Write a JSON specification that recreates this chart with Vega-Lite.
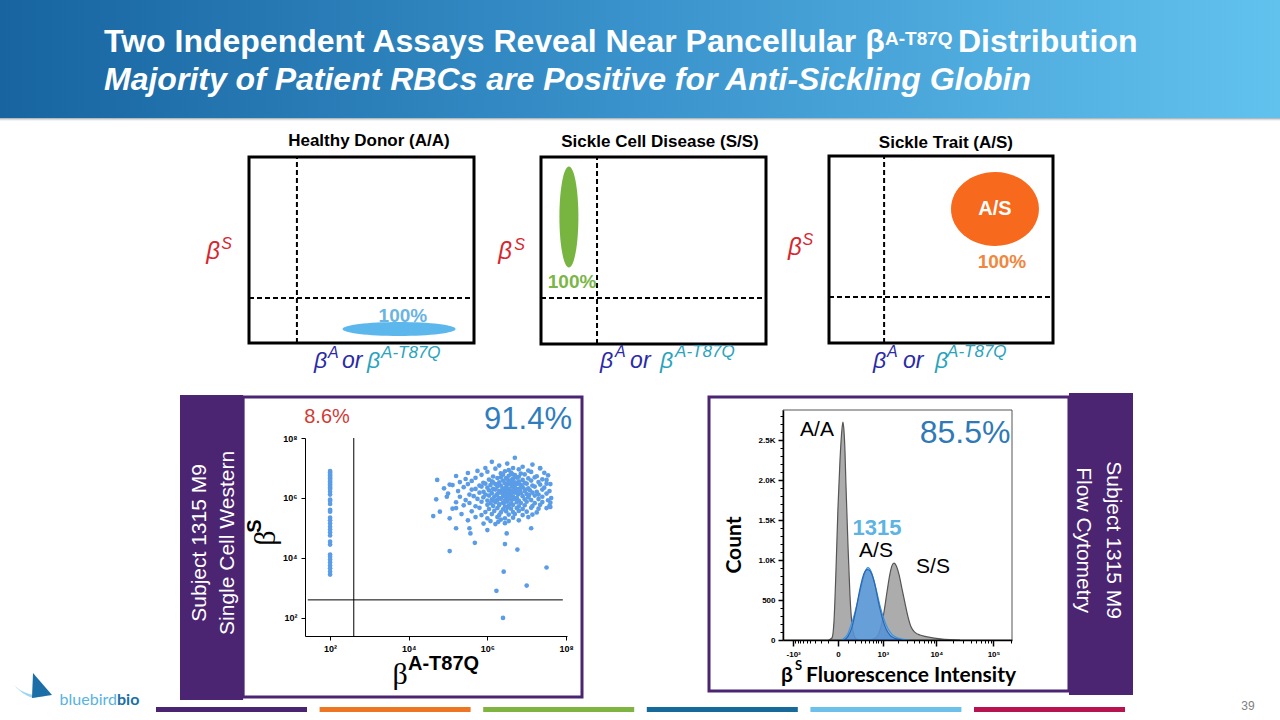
{
"$schema": "https://vega.github.io/schema/vega-lite/v6.json",
"width": 1280, "height": 720, "padding": 0, "autosize": {"type": "none"},
"background": "#ffffff",
"config": {"view": {"stroke": null}, "axis": {"grid": false}, "font": "Liberation Sans", "text": {"font": "Liberation Sans"}},
"data": {"values": [{}]},
"datasets": {
"scatter": [
{"A":100,"S":7.9e6},{"A":100,"S":7.1e6},{"A":100,"S":6.3e6},{"A":100,"S":5.6e6},{"A":100,"S":5.0e6},{"A":100,"S":4.5e6},{"A":100,"S":4.0e6},{"A":100,"S":3.5e6},{"A":100,"S":3.2e6},{"A":100,"S":2.8e6},{"A":100,"S":2.5e6},{"A":100,"S":2.2e6},{"A":100,"S":2.0e6},{"A":100,"S":1.6e6},{"A":100,"S":1.3e6},{"A":100,"S":8.9e5},{"A":100,"S":7.9e5},{"A":100,"S":6.3e5},{"A":100,"S":4.0e5},{"A":100,"S":3.5e5},{"A":100,"S":2.2e5},{"A":100,"S":1.8e5},{"A":100,"S":1.4e5},{"A":100,"S":1.1e5},{"A":100,"S":8.9e4},{"A":100,"S":7.1e4},{"A":100,"S":5.6e4},{"A":100,"S":3.5e4},{"A":100,"S":2.8e4},{"A":100,"S":1.3e4},{"A":100,"S":1.1e4},{"A":100,"S":8.9e3},{"A":100,"S":7.1e3},{"A":100,"S":5.6e3},{"A":100,"S":4.5e3},{"A":100,"S":3.5e3},{"A":100,"S":2.8e3},
{"A":5.0e6,"S":2.2e7},{"A":1.3e6,"S":1.6e7},{"A":3.2e6,"S":1.4e7},{"A":2.2e7,"S":1.0e7},{"A":8.9e5,"S":1.0e7},{"A":5.3e4,"S":4.0e6},{"A":1.1e5,"S":2.8e6},{"A":3.2e7,"S":4.0e6},{"A":4.0e7,"S":5.0e5},{"A":9.3e4,"S":1.1e6},{"A":1.6e5,"S":4.6e5},{"A":6.2e4,"S":3.5e5},{"A":1.1e5,"S":2.1e5},{"A":1.6e5,"S":9.8e4},{"A":3.5e5,"S":9.8e4},{"A":3.7e5,"S":6.6e4},{"A":4.8e5,"S":3.2e4},{"A":1.0e6,"S":8.5e4},{"A":1.9e6,"S":1.6e5},{"A":3.1e6,"S":6.6e4},{"A":2.8e6,"S":2.9e4},{"A":5.8e6,"S":1.9e4},{"A":1.3e7,"S":9.8e4},{"A":1.1e5,"S":1.7e4},{"A":2.6e6,"S":3.5e3},{"A":1.7e6,"S":8.0e2},{"A":1.0e7,"S":1.2e3},{"A":3.2e7,"S":4.8e3},{"A":2.5e6,"S":1.0e2},{"A":4.2e4,"S":2.5e5},
{"A":2.0e6,"S":1.2e7},{"A":4.5e6,"S":1.0e7},{"A":7.9e6,"S":1.1e7},{"A":1.4e7,"S":1.3e7},
{"A":5.6e5,"S":8.0e6},{"A":1.6e6,"S":9.5e6},{"A":3.5e6,"S":8.5e6},{"A":6.3e6,"S":9.0e6},{"A":1.1e7,"S":8.2e6},{"A":2.2e7,"S":9.6e6},
{"A":3.2e5,"S":6.8e6},{"A":1.0e6,"S":7.5e6},{"A":2.2e6,"S":6.6e6},{"A":2.8e6,"S":7.8e6},{"A":4.0e6,"S":7.0e6},{"A":7.1e6,"S":6.5e6},{"A":1.3e7,"S":7.4e6},{"A":2.8e7,"S":6.9e6},
{"A":1.6e5,"S":5.4e6},{"A":7.1e5,"S":5.9e6},{"A":1.4e6,"S":5.2e6},{"A":2.5e6,"S":6.0e6},{"A":3.5e6,"S":5.5e6},{"A":5.0e6,"S":5.8e6},{"A":6.3e6,"S":5.1e6},{"A":8.9e6,"S":6.1e6},{"A":1.8e7,"S":5.3e6},{"A":3.5e7,"S":5.7e6},
{"A":2.8e5,"S":4.3e6},{"A":5.0e5,"S":4.7e6},{"A":1.1e6,"S":4.1e6},{"A":1.8e6,"S":4.6e6},{"A":2.2e6,"S":4.9e6},{"A":3.2e6,"S":4.2e6},{"A":4.5e6,"S":4.4e6},{"A":5.6e6,"S":4.8e6},{"A":7.9e6,"S":4.0e6},{"A":1.1e7,"S":4.5e6},{"A":1.6e7,"S":4.9e6},{"A":2.5e7,"S":4.2e6},
{"A":2.0e5,"S":3.4e6},{"A":4.0e5,"S":3.7e6},{"A":7.9e5,"S":3.2e6},{"A":1.3e6,"S":3.6e6},{"A":2.0e6,"S":3.3e6},{"A":2.5e6,"S":3.8e6},{"A":2.8e6,"S":3.1e6},{"A":3.5e6,"S":3.5e6},{"A":4.0e6,"S":3.9e6},{"A":5.0e6,"S":3.3e6},{"A":6.3e6,"S":3.6e6},{"A":8.9e6,"S":3.2e6},{"A":1.3e7,"S":3.8e6},{"A":2.0e7,"S":3.4e6},{"A":3.2e7,"S":3.0e6},
{"A":1.3e5,"S":2.7e6},{"A":3.2e5,"S":2.9e6},{"A":6.3e5,"S":2.6e6},{"A":8.9e5,"S":3.0e6},{"A":1.2e6,"S":2.7e6},{"A":1.6e6,"S":2.9e6},{"A":2.2e6,"S":2.6e6},{"A":3.2e6,"S":2.8e6},{"A":3.8e6,"S":3.0e6},{"A":4.5e6,"S":2.6e6},{"A":5.6e6,"S":2.9e6},{"A":7.1e6,"S":2.7e6},{"A":1.0e7,"S":3.0e6},{"A":1.4e7,"S":2.6e6},{"A":2.2e7,"S":2.8e6},{"A":4.0e7,"S":2.9e6},
{"A":7.9e4,"S":2.1e6},{"A":2.5e5,"S":2.3e6},{"A":5.0e5,"S":2.0e6},{"A":7.1e5,"S":2.4e6},{"A":1.0e6,"S":2.2e6},{"A":1.4e6,"S":2.0e6},{"A":1.8e6,"S":2.4e6},{"A":2.5e6,"S":2.1e6},{"A":3.0e6,"S":2.3e6},{"A":3.5e6,"S":2.0e6},{"A":4.2e6,"S":2.4e6},{"A":5.0e6,"S":2.2e6},{"A":6.3e6,"S":2.0e6},{"A":7.9e6,"S":2.3e6},{"A":1.1e7,"S":2.1e6},{"A":1.6e7,"S":2.4e6},{"A":2.8e7,"S":2.2e6},
{"A":1.8e5,"S":1.7e6},{"A":4.0e5,"S":1.9e6},{"A":8.0e5,"S":1.6e6},{"A":1.1e6,"S":1.8e6},{"A":1.6e6,"S":1.9e6},{"A":2.0e6,"S":1.7e6},{"A":2.6e6,"S":1.6e6},{"A":3.2e6,"S":1.9e6},{"A":3.6e6,"S":1.7e6},{"A":4.5e6,"S":1.8e6},{"A":5.6e6,"S":1.6e6},{"A":6.8e6,"S":1.9e6},{"A":8.9e6,"S":1.7e6},{"A":1.2e7,"S":1.8e6},{"A":1.8e7,"S":1.6e6},{"A":2.5e7,"S":1.9e6},{"A":3.8e7,"S":1.7e6},
{"A":1.0e5,"S":1.4e6},{"A":3.5e5,"S":1.3e6},{"A":6.3e5,"S":1.5e6},{"A":9.0e5,"S":1.3e6},{"A":1.3e6,"S":1.45e6},{"A":1.8e6,"S":1.35e6},{"A":2.2e6,"S":1.5e6},{"A":2.8e6,"S":1.3e6},{"A":3.4e6,"S":1.45e6},{"A":4.0e6,"S":1.35e6},{"A":5.0e6,"S":1.5e6},{"A":6.0e6,"S":1.3e6},{"A":7.1e6,"S":1.45e6},{"A":1.0e7,"S":1.35e6},{"A":1.4e7,"S":1.5e6},{"A":2.0e7,"S":1.3e6},{"A":3.2e7,"S":1.4e6},
{"A":2.0e5,"S":1.1e6},{"A":4.5e5,"S":1.15e6},{"A":7.9e5,"S":1.05e6},{"A":1.1e6,"S":1.2e6},{"A":1.5e6,"S":1.1e6},{"A":2.0e6,"S":1.0e6},{"A":2.5e6,"S":1.15e6},{"A":3.0e6,"S":1.05e6},{"A":3.8e6,"S":1.2e6},{"A":4.5e6,"S":1.1e6},{"A":5.6e6,"S":1.0e6},{"A":7.9e6,"S":1.15e6},{"A":1.1e7,"S":1.05e6},{"A":1.6e7,"S":1.2e6},{"A":2.5e7,"S":1.1e6},{"A":4.2e7,"S":1.0e6},
{"A":5.0e4,"S":9.0e5},{"A":2.8e5,"S":8.5e5},{"A":5.6e5,"S":9.3e5},{"A":1.0e6,"S":8.2e5},{"A":1.3e6,"S":9.0e5},{"A":1.8e6,"S":8.6e5},{"A":2.2e6,"S":9.4e5},{"A":2.8e6,"S":8.3e5},{"A":3.5e6,"S":9.1e5},{"A":4.2e6,"S":8.7e5},{"A":5.0e6,"S":9.4e5},{"A":6.3e6,"S":8.2e5},{"A":8.9e6,"S":9.0e5},{"A":1.3e7,"S":8.5e5},{"A":2.0e7,"S":9.2e5},{"A":3.5e7,"S":8.4e5},
{"A":1.6e5,"S":7.2e5},{"A":3.5e5,"S":6.8e5},{"A":7.1e5,"S":7.5e5},{"A":1.2e6,"S":6.7e5},{"A":1.6e6,"S":7.3e5},{"A":2.5e6,"S":6.9e5},{"A":3.2e6,"S":7.6e5},{"A":4.0e6,"S":6.6e5},{"A":5.6e6,"S":7.2e5},{"A":7.1e6,"S":6.8e5},{"A":1.0e7,"S":7.5e5},{"A":1.6e7,"S":6.7e5},{"A":2.5e7,"S":7.3e5},{"A":4.0e7,"S":7.0e5},
{"A":2.5e5,"S":5.7e5},{"A":5.0e5,"S":5.3e5},{"A":1.0e6,"S":5.9e5},{"A":1.4e6,"S":5.4e5},{"A":2.0e6,"S":5.8e5},{"A":2.8e6,"S":5.2e5},{"A":3.5e6,"S":5.6e5},{"A":4.5e6,"S":5.9e5},{"A":6.3e6,"S":5.3e5},{"A":8.9e6,"S":5.7e5},{"A":1.4e7,"S":5.4e5},{"A":2.2e7,"S":5.9e5},{"A":3.8e7,"S":5.5e5},
{"A":1.3e5,"S":4.4e5},{"A":6.3e5,"S":4.7e5},{"A":1.1e6,"S":4.3e5},{"A":1.8e6,"S":4.6e5},{"A":2.5e6,"S":4.2e5},{"A":3.2e6,"S":4.8e5},{"A":4.0e6,"S":4.4e5},{"A":5.6e6,"S":4.6e5},{"A":7.9e6,"S":4.3e5},{"A":1.3e7,"S":4.7e5},{"A":2.0e7,"S":4.4e5},{"A":3.2e7,"S":4.6e5},
{"A":4.0e5,"S":3.6e5},{"A":8.9e5,"S":3.4e5},{"A":1.5e6,"S":3.7e5},{"A":2.2e6,"S":3.3e5},{"A":3.0e6,"S":3.6e5},{"A":4.5e6,"S":3.4e5},{"A":6.3e6,"S":3.7e5},{"A":1.0e7,"S":3.5e5},{"A":1.8e7,"S":3.3e5},
{"A":2.2e5,"S":2.9e5},{"A":7.1e5,"S":2.7e5},{"A":1.3e6,"S":2.9e5},{"A":2.0e6,"S":2.7e5},{"A":3.5e6,"S":2.8e5},{"A":5.0e6,"S":2.9e5},{"A":7.9e6,"S":2.7e5},{"A":1.4e7,"S":2.8e5},
{"A":5.0e5,"S":2.3e5},{"A":1.0e6,"S":2.1e5},{"A":1.8e6,"S":2.3e5},{"A":2.8e6,"S":2.1e5},{"A":4.5e6,"S":2.2e5},{"A":1.1e7,"S":2.3e5},
{"A":3.2e5,"S":1.8e5},{"A":1.2e6,"S":1.7e5},{"A":2.2e6,"S":1.9e5},{"A":3.5e6,"S":1.7e5},{"A":6.3e6,"S":1.8e5},
{"A":8.0e5,"S":1.4e5},{"A":1.6e6,"S":1.35e5},{"A":2.8e6,"S":1.45e5},
{"A":1.7e6,"S":1.25e6},{"A":2.4e6,"S":1.9e6},{"A":3.3e6,"S":1.2e6},{"A":4.2e6,"S":1.6e6},{"A":1.9e6,"S":2.8e6},{"A":2.7e6,"S":7.0e5},{"A":3.6e6,"S":1.0e6},{"A":4.6e6,"S":3.1e6},{"A":1.5e6,"S":7.8e5},{"A":2.0e6,"S":6.2e5},{"A":3.0e6,"S":1.7e6},{"A":3.9e6,"S":3.4e6},{"A":5.8e6,"S":1.9e6},{"A":7.4e6,"S":2.6e6},{"A":9.5e6,"S":1.9e6},{"A":1.4e6,"S":3.3e6},{"A":3.0e6,"S":4.6e6},{"A":4.3e6,"S":6.2e6},{"A":6.5e6,"S":3.0e6},{"A":1.15e7,"S":1.25e6}
],
"hist": [
{"curve":"A/A","x":-90,"count":0},{"curve":"A/A","x":-54,"count":25},{"curve":"A/A","x":-35,"count":220},{"curve":"A/A","x":-17,"count":850},{"curve":"A/A","x":0,"count":1650},{"curve":"A/A","x":17,"count":2250},{"curve":"A/A","x":35,"count":2640},{"curve":"A/A","x":44,"count":2725},{"curve":"A/A","x":54,"count":2620},{"curve":"A/A","x":65,"count":2350},{"curve":"A/A","x":75,"count":1950},{"curve":"A/A","x":98,"count":1200},{"curve":"A/A","x":123,"count":560},{"curve":"A/A","x":150,"count":200},{"curve":"A/A","x":179,"count":60},{"curve":"A/A","x":211,"count":15},{"curve":"A/A","x":260,"count":0},
{"curve":"S/S","x":519,"count":0},{"curve":"S/S","x":714,"count":30},{"curve":"S/S","x":873,"count":120},{"curve":"S/S","x":1059,"count":350},{"curve":"S/S","x":1220,"count":600},{"curve":"S/S","x":1401,"count":830},{"curve":"S/S","x":1534,"count":930},{"curve":"S/S","x":1678,"count":962},{"curve":"S/S","x":1835,"count":935},{"curve":"S/S","x":2094,"count":820},{"curve":"S/S","x":2387,"count":640},{"curve":"S/S","x":2717,"count":460},{"curve":"S/S","x":3089,"count":290},{"curve":"S/S","x":3509,"count":165},{"curve":"S/S","x":4151,"count":95},{"curve":"S/S","x":5116,"count":62},{"curve":"S/S","x":6292,"count":45},{"curve":"S/S","x":7730,"count":32},{"curve":"S/S","x":11625,"count":15},{"curve":"S/S","x":17430,"count":5},{"curve":"S/S","x":26130,"count":0},
{"curve":"1315","x":30,"count":0},{"curve":"1315","x":60,"count":25},{"curve":"1315","x":98,"count":80},{"curve":"1315","x":123,"count":150},{"curve":"1315","x":179,"count":300},{"curve":"1315","x":245,"count":500},{"curve":"1315","x":322,"count":710},{"curve":"1315","x":389,"count":850},{"curve":"1315","x":464,"count":905},{"curve":"1315","x":549,"count":860},{"curve":"1315","x":644,"count":740},{"curve":"1315","x":752,"count":590},{"curve":"1315","x":873,"count":430},{"curve":"1315","x":1059,"count":260},{"curve":"1315","x":1278,"count":140},{"curve":"1315","x":1534,"count":70},{"curve":"1315","x":1835,"count":35},{"curve":"1315","x":2387,"count":12},{"curve":"1315","x":3363,"count":0},
{"curve":"A/S","x":60,"count":0},{"curve":"A/S","x":98,"count":45},{"curve":"A/S","x":150,"count":160},{"curve":"A/S","x":211,"count":380},{"curve":"A/S","x":282,"count":640},{"curve":"A/S","x":366,"count":830},{"curve":"A/S","x":438,"count":880},{"curve":"A/S","x":491,"count":875},{"curve":"A/S","x":579,"count":820},{"curve":"A/S","x":679,"count":690},{"curve":"A/S","x":791,"count":500},{"curve":"A/S","x":962,"count":290},{"curve":"A/S","x":1164,"count":140},{"curve":"A/S","x":1401,"count":60},{"curve":"A/S","x":1755,"count":20},{"curve":"A/S","x":2388,"count":0}
]
},
"resolve": {"scale": {"x": "independent", "y": "independent", "color": "independent"}, "axis": {"x": "independent", "y": "independent"}},
"layer": [
{"layer": [
 {"mark": {"type": "rect", "color": {"gradient": "linear", "x1": 0, "y1": 0, "x2": 1, "y2": 0, "stops": [{"offset": 0, "color": "#1764a0"}, {"offset": 0.5, "color": "#3a93cc"}, {"offset": 1, "color": "#62c2ee"}]}},
  "encoding": {"x": {"datum": 0, "scale": {"domain": [0, 1], "range": [0, 1280], "nice": false}, "axis": null}, "x2": {"datum": 1},
               "y": {"datum": 0.8361, "scale": {"domain": [0, 1], "range": [720, 0], "nice": false}, "axis": null}, "y2": {"datum": 1}}},
 {"mark": {"type": "rect", "color": {"gradient": "radial", "x1": 0.55, "y1": -0.6, "r1": 0, "x2": 0.55, "y2": -0.6, "r2": 1, "stops": [{"offset": 0.5, "color": "rgba(150,222,250,0.9)"}, {"offset": 0.72, "color": "rgba(150,222,250,0.35)"}, {"offset": 0.9, "color": "rgba(150,222,250,0)"}]}},
  "encoding": {"x": {"datum": 0, "axis": null}, "x2": {"datum": 1}, "y": {"datum": 0.8361, "axis": null}, "y2": {"datum": 1}}},
 {"mark": {"type": "rect", "color": {"gradient": "linear", "x1": 0, "y1": 0, "x2": 0, "y2": 1, "stops": [{"offset": 0, "color": "#9aa6b0"}, {"offset": 1, "color": "rgba(255,255,255,0)"}]}},
  "encoding": {"x": {"datum": 0, "axis": null}, "x2": {"datum": 1}, "y": {"datum": 0.8306, "axis": null}, "y2": {"datum": 0.8361}}},
 {"mark": {"type": "text", "text": "Two Independent Assays Reveal Near Pancellular β", "align": "left", "baseline": "alphabetic", "fontSize": 32, "fontWeight": "bold", "color": "#ffffff"},
  "encoding": {"x": {"datum": 0.08125, "axis": null}, "y": {"datum": 0.9278, "axis": null}}},
 {"mark": {"type": "text", "text": "A-T87Q", "align": "left", "baseline": "alphabetic", "fontSize": 19, "fontWeight": "bold", "color": "#ffffff"},
  "encoding": {"x": {"datum": 0.6914, "axis": null}, "y": {"datum": 0.9375, "axis": null}}},
 {"mark": {"type": "text", "text": "Distribution", "align": "left", "baseline": "alphabetic", "fontSize": 32, "fontWeight": "bold", "color": "#ffffff"},
  "encoding": {"x": {"datum": 0.7484, "axis": null}, "y": {"datum": 0.9278, "axis": null}}},
 {"mark": {"type": "text", "text": "Majority of Patient RBCs are Positive for Anti-Sickling Globin", "align": "left", "baseline": "alphabetic", "fontSize": 32, "fontWeight": "bold", "fontStyle": "italic", "color": "#ffffff"},
  "encoding": {"x": {"datum": 0.08125, "axis": null}, "y": {"datum": 0.875, "axis": null}}},
 {"mark": {"type": "point", "shape": "M-1,-0.25Q-0.4,0.45,0.75,0.38L0.05,0.5Q-0.5,0.35,-1,-0.25Z", "size": 1600, "filled": true, "color": "#9fd6f0", "opacity": 1, "strokeWidth": 0},
  "encoding": {"x": {"datum": 0.025, "axis": null}, "y": {"datum": 0.0444, "axis": null}}},
 {"mark": {"type": "point", "shape": "M0.05,-0.75L1,0.35L0,0.5Z", "size": 1600, "filled": true, "color": "#1b6ea6", "opacity": 1, "strokeWidth": 0},
  "encoding": {"x": {"datum": 0.025, "axis": null}, "y": {"datum": 0.0444, "axis": null}}},
 {"mark": {"type": "text", "text": "bluebird", "align": "right", "baseline": "alphabetic", "font": "Lato", "fontSize": 16, "color": "#55b4e0"},
  "encoding": {"x": {"datum": 0.0914, "axis": null}, "y": {"datum": 0.0208, "axis": null}}},
 {"mark": {"type": "text", "text": "bio", "align": "left", "baseline": "alphabetic", "font": "Lato", "fontSize": 16, "fontWeight": "bold", "color": "#1b6ea6"},
  "encoding": {"x": {"datum": 0.0914, "axis": null}, "y": {"datum": 0.0208, "axis": null}}},
 {"mark": {"type": "text", "text": "39", "align": "center", "baseline": "middle", "fontSize": 12, "color": "#808080"},
  "encoding": {"x": {"datum": 0.975, "axis": null}, "y": {"datum": 0.0194, "axis": null}}}
]},
{"layer": [
 {"mark": {"type": "rect", "fill": "transparent", "stroke": "#000000", "strokeWidth": 3},
  "encoding": {"x": {"datum": 0, "scale": {"domain": [0, 1], "range": [249, 474], "nice": false}, "axis": null}, "x2": {"datum": 1},
               "y": {"datum": 0, "scale": {"domain": [0, 1], "range": [343, 157], "nice": false}, "axis": null}, "y2": {"datum": 1}}},
 {"mark": {"type": "rule", "color": "#000000", "strokeWidth": 2, "strokeDash": [5, 3]}, "encoding": {"x": {"datum": 0.213, "axis": null}, "y": {"datum": 0, "axis": null}, "y2": {"datum": 1}}},
 {"mark": {"type": "rule", "color": "#000000", "strokeWidth": 2, "strokeDash": [5, 3]}, "encoding": {"x": {"datum": 0, "axis": null}, "x2": {"datum": 1}, "y": {"datum": 0.242, "axis": null}}},
 {"mark": {"type": "point", "shape": "M-1,0C-1,-0.0685,-0.5523,-0.124,0,-0.124C0.5523,-0.124,1,-0.0685,1,0C1,0.0685,0.5523,0.124,0,0.124C-0.5523,0.124,-1,0.0685,-1,0Z", "size": 12769, "filled": true, "color": "#5cb8ec", "opacity": 1, "strokeWidth": 0},
  "encoding": {"x": {"datum": 0.667, "axis": null}, "y": {"datum": 0.075, "axis": null}}},
 {"mark": {"type": "text", "text": "100%", "align": "center", "baseline": "middle", "fontSize": 19, "fontWeight": "bold", "color": "#6ab4e2"}, "encoding": {"x": {"datum": 0.684, "axis": null}, "y": {"datum": 0.145, "axis": null}}},
 {"mark": {"type": "text", "text": "Healthy Donor (A/A)", "align": "center", "baseline": "middle", "fontSize": 17, "fontWeight": "bold", "color": "#000000"}, "encoding": {"x": {"datum": 0.533, "axis": null}, "y": {"datum": 1.086, "axis": null}}},
 {"mark": {"type": "text", "text": "β", "align": "center", "baseline": "middle", "fontSize": 24, "fontStyle": "italic", "color": "#d7262e"}, "encoding": {"x": {"datum": -0.16, "axis": null}, "y": {"datum": 0.489, "axis": null}}},
 {"mark": {"type": "text", "text": "S", "align": "center", "baseline": "middle", "fontSize": 16, "fontStyle": "italic", "color": "#d7262e"}, "encoding": {"x": {"datum": -0.1, "axis": null}, "y": {"datum": 0.532, "axis": null}}},
 {"mark": {"type": "text", "text": "β", "align": "left", "baseline": "alphabetic", "fontSize": 23, "fontStyle": "italic", "color": "#2a2aa8"}, "encoding": {"x": {"datum": 0.289, "axis": null}, "y": {"datum": -0.134, "axis": null}}},
 {"mark": {"type": "text", "text": "A", "align": "left", "baseline": "alphabetic", "fontSize": 16, "fontStyle": "italic", "color": "#2a2aa8"}, "encoding": {"x": {"datum": 0.351, "axis": null}, "y": {"datum": -0.081, "axis": null}}},
 {"mark": {"type": "text", "text": "or", "align": "left", "baseline": "alphabetic", "fontSize": 23, "fontStyle": "italic", "color": "#2a2aa8"}, "encoding": {"x": {"datum": 0.413, "axis": null}, "y": {"datum": -0.134, "axis": null}}},
 {"mark": {"type": "text", "text": "β", "align": "left", "baseline": "alphabetic", "fontSize": 23, "fontStyle": "italic", "color": "#2aa3bd"}, "encoding": {"x": {"datum": 0.524, "axis": null}, "y": {"datum": -0.134, "axis": null}}},
 {"mark": {"type": "text", "text": "A-T87Q", "align": "left", "baseline": "alphabetic", "fontSize": 17, "fontStyle": "italic", "color": "#2aa3bd"}, "encoding": {"x": {"datum": 0.587, "axis": null}, "y": {"datum": -0.081, "axis": null}}}
]},
{"layer": [
 {"mark": {"type": "rect", "fill": "transparent", "stroke": "#000000", "strokeWidth": 3},
  "encoding": {"x": {"datum": 0, "scale": {"domain": [0, 1], "range": [541, 766], "nice": false}, "axis": null}, "x2": {"datum": 1},
               "y": {"datum": 0, "scale": {"domain": [0, 1], "range": [344, 157], "nice": false}, "axis": null}, "y2": {"datum": 1}}},
 {"mark": {"type": "rule", "color": "#000000", "strokeWidth": 2, "strokeDash": [5, 3]}, "encoding": {"x": {"datum": 0.249, "axis": null}, "y": {"datum": 0, "axis": null}, "y2": {"datum": 1}}},
 {"mark": {"type": "rule", "color": "#000000", "strokeWidth": 2, "strokeDash": [5, 3]}, "encoding": {"x": {"datum": 0, "axis": null}, "x2": {"datum": 1}, "y": {"datum": 0.246, "axis": null}}},
 {"mark": {"type": "point", "shape": "M0,-1C0.104,-1,0.188,-0.5523,0.188,0C0.188,0.5523,0.104,1,0,1C-0.104,1,-0.188,0.5523,-0.188,0C-0.188,-0.5523,-0.104,-1,0,-1Z", "size": 10201, "filled": true, "color": "#77b540", "opacity": 1, "strokeWidth": 0},
  "encoding": {"x": {"datum": 0.124, "axis": null}, "y": {"datum": 0.679, "axis": null}}},
 {"mark": {"type": "text", "text": "100%", "align": "center", "baseline": "middle", "fontSize": 19, "fontWeight": "bold", "color": "#7ab648"}, "encoding": {"x": {"datum": 0.138, "axis": null}, "y": {"datum": 0.332, "axis": null}}},
 {"mark": {"type": "text", "text": "Sickle Cell Disease (S/S)", "align": "center", "baseline": "middle", "fontSize": 17, "fontWeight": "bold", "color": "#000000"}, "encoding": {"x": {"datum": 0.529, "axis": null}, "y": {"datum": 1.08, "axis": null}}},
 {"mark": {"type": "text", "text": "β", "align": "center", "baseline": "middle", "fontSize": 24, "fontStyle": "italic", "color": "#d7262e"}, "encoding": {"x": {"datum": -0.16, "axis": null}, "y": {"datum": 0.492, "axis": null}}},
 {"mark": {"type": "text", "text": "S", "align": "center", "baseline": "middle", "fontSize": 16, "fontStyle": "italic", "color": "#d7262e"}, "encoding": {"x": {"datum": -0.095, "axis": null}, "y": {"datum": 0.529, "axis": null}}},
 {"mark": {"type": "text", "text": "β", "align": "left", "baseline": "alphabetic", "fontSize": 23, "fontStyle": "italic", "color": "#2a2aa8"}, "encoding": {"x": {"datum": 0.262, "axis": null}, "y": {"datum": -0.128, "axis": null}}},
 {"mark": {"type": "text", "text": "A", "align": "left", "baseline": "alphabetic", "fontSize": 16, "fontStyle": "italic", "color": "#2a2aa8"}, "encoding": {"x": {"datum": 0.329, "axis": null}, "y": {"datum": -0.07, "axis": null}}},
 {"mark": {"type": "text", "text": "or", "align": "left", "baseline": "alphabetic", "fontSize": 23, "fontStyle": "italic", "color": "#2a2aa8"}, "encoding": {"x": {"datum": 0.396, "axis": null}, "y": {"datum": -0.128, "axis": null}}},
 {"mark": {"type": "text", "text": "β", "align": "left", "baseline": "alphabetic", "fontSize": 23, "fontStyle": "italic", "color": "#2aa3bd"}, "encoding": {"x": {"datum": 0.529, "axis": null}, "y": {"datum": -0.128, "axis": null}}},
 {"mark": {"type": "text", "text": "A-T87Q", "align": "left", "baseline": "alphabetic", "fontSize": 17, "fontStyle": "italic", "color": "#2aa3bd"}, "encoding": {"x": {"datum": 0.596, "axis": null}, "y": {"datum": -0.07, "axis": null}}}
]},
{"layer": [
 {"mark": {"type": "rect", "fill": "transparent", "stroke": "#000000", "strokeWidth": 3},
  "encoding": {"x": {"datum": 0, "scale": {"domain": [0, 1], "range": [829, 1053], "nice": false}, "axis": null}, "x2": {"datum": 1},
               "y": {"datum": 0, "scale": {"domain": [0, 1], "range": [343, 156], "nice": false}, "axis": null}, "y2": {"datum": 1}}},
 {"mark": {"type": "rule", "color": "#000000", "strokeWidth": 2, "strokeDash": [5, 3]}, "encoding": {"x": {"datum": 0.246, "axis": null}, "y": {"datum": 0, "axis": null}, "y2": {"datum": 1}}},
 {"mark": {"type": "rule", "color": "#000000", "strokeWidth": 2, "strokeDash": [5, 3]}, "encoding": {"x": {"datum": 0, "axis": null}, "x2": {"datum": 1}, "y": {"datum": 0.246, "axis": null}}},
 {"mark": {"type": "point", "shape": "M-1,0C-1,-0.464,-0.5523,-0.84,0,-0.84C0.5523,-0.84,1,-0.464,1,0C1,0.464,0.5523,0.84,0,0.84C-0.5523,0.84,-1,0.464,-1,0Z", "size": 7744, "filled": true, "color": "#f7691c", "opacity": 1, "strokeWidth": 0},
  "encoding": {"x": {"datum": 0.741, "axis": null}, "y": {"datum": 0.717, "axis": null}}},
 {"mark": {"type": "text", "text": "A/S", "align": "center", "baseline": "middle", "fontSize": 20, "fontWeight": "bold", "color": "#ffffff"}, "encoding": {"x": {"datum": 0.741, "axis": null}, "y": {"datum": 0.717, "axis": null}}},
 {"mark": {"type": "text", "text": "100%", "align": "center", "baseline": "middle", "fontSize": 19, "fontWeight": "bold", "color": "#f0873e"}, "encoding": {"x": {"datum": 0.772, "axis": null}, "y": {"datum": 0.433, "axis": null}}},
 {"mark": {"type": "text", "text": "Sickle Trait (A/S)", "align": "center", "baseline": "middle", "fontSize": 17, "fontWeight": "bold", "color": "#000000"}, "encoding": {"x": {"datum": 0.522, "axis": null}, "y": {"datum": 1.069, "axis": null}}},
 {"mark": {"type": "text", "text": "β", "align": "center", "baseline": "middle", "fontSize": 24, "fontStyle": "italic", "color": "#d7262e"}, "encoding": {"x": {"datum": -0.152, "axis": null}, "y": {"datum": 0.508, "axis": null}}},
 {"mark": {"type": "text", "text": "S", "align": "center", "baseline": "middle", "fontSize": 16, "fontStyle": "italic", "color": "#d7262e"}, "encoding": {"x": {"datum": -0.095, "axis": null}, "y": {"datum": 0.551, "axis": null}}},
 {"mark": {"type": "text", "text": "β", "align": "left", "baseline": "alphabetic", "fontSize": 23, "fontStyle": "italic", "color": "#2a2aa8"}, "encoding": {"x": {"datum": 0.196, "axis": null}, "y": {"datum": -0.134, "axis": null}}},
 {"mark": {"type": "text", "text": "A", "align": "left", "baseline": "alphabetic", "fontSize": 16, "fontStyle": "italic", "color": "#2a2aa8"}, "encoding": {"x": {"datum": 0.259, "axis": null}, "y": {"datum": -0.075, "axis": null}}},
 {"mark": {"type": "text", "text": "or", "align": "left", "baseline": "alphabetic", "fontSize": 23, "fontStyle": "italic", "color": "#2a2aa8"}, "encoding": {"x": {"datum": 0.33, "axis": null}, "y": {"datum": -0.134, "axis": null}}},
 {"mark": {"type": "text", "text": "β", "align": "left", "baseline": "alphabetic", "fontSize": 23, "fontStyle": "italic", "color": "#2aa3bd"}, "encoding": {"x": {"datum": 0.473, "axis": null}, "y": {"datum": -0.134, "axis": null}}},
 {"mark": {"type": "text", "text": "A-T87Q", "align": "left", "baseline": "alphabetic", "fontSize": 17, "fontStyle": "italic", "color": "#2aa3bd"}, "encoding": {"x": {"datum": 0.527, "axis": null}, "y": {"datum": -0.075, "axis": null}}}
]},
{"layer": [
 {"mark": {"type": "rect", "fill": "#4b2472"},
  "encoding": {"x": {"datum": 0, "scale": {"domain": [0, 1], "range": [180, 582], "nice": false}, "axis": null}, "x2": {"datum": 0.157},
               "y": {"datum": 0, "scale": {"domain": [0, 1], "range": [700, 395], "nice": false}, "axis": null}, "y2": {"datum": 1}}},
 {"mark": {"type": "rect", "fill": "transparent", "stroke": "#4b2472", "strokeWidth": 3},
  "encoding": {"x": {"datum": 0.157, "axis": null}, "x2": {"datum": 1}, "y": {"datum": 0.0098, "axis": null}, "y2": {"datum": 0.9934}}},
 {"mark": {"type": "text", "text": ["Subject 1315 M9", "Single Cell Western"], "angle": 270, "lineHeight": 28, "align": "center", "baseline": "middle", "fontSize": 21, "color": "#ffffff"},
  "encoding": {"x": {"datum": 0.0498, "axis": null}, "y": {"datum": 0.515, "axis": null}}},
 {"mark": {"type": "text", "text": "8.6%", "align": "center", "baseline": "middle", "fontSize": 20, "color": "#d33a35"}, "encoding": {"x": {"datum": 0.3657, "axis": null}, "y": {"datum": 0.928, "axis": null}}},
 {"mark": {"type": "text", "text": "91.4%", "align": "center", "baseline": "middle", "fontSize": 31, "color": "#2f7dbf"}, "encoding": {"x": {"datum": 0.8657, "axis": null}, "y": {"datum": 0.918, "axis": null}}},
 {"mark": {"type": "text", "text": "β", "align": "center", "baseline": "middle", "font": "Liberation Serif", "fontSize": 30, "color": "#000000"}, "encoding": {"x": {"datum": 0.5473, "axis": null}, "y": {"datum": 0.082, "axis": null}}},
 {"mark": {"type": "text", "text": "A-T87Q", "align": "left", "baseline": "middle", "fontSize": 20, "fontWeight": "bold", "color": "#000000"}, "encoding": {"x": {"datum": 0.567, "axis": null}, "y": {"datum": 0.118, "axis": null}}},
 {"mark": {"type": "text", "text": "β", "angle": 270, "align": "center", "baseline": "middle", "font": "Liberation Serif", "fontSize": 30, "color": "#000000"}, "encoding": {"x": {"datum": 0.214, "axis": null}, "y": {"datum": 0.531, "axis": null}}},
 {"mark": {"type": "text", "text": "S", "angle": 270, "align": "center", "baseline": "middle", "fontSize": 20, "fontWeight": "bold", "color": "#000000"}, "encoding": {"x": {"datum": 0.1866, "axis": null}, "y": {"datum": 0.5705, "axis": null}}}
]},
{"data": {"name": "scatter"},
 "resolve": {"axis": {"x": "independent", "y": "independent"}},
 "layer": [
 {"data": {"values": [{}]}, "mark": {"type": "rule", "color": "#000000", "strokeWidth": 1},
  "encoding": {"x": {"datum": 400, "scale": {"type": "log", "domain": [23, 1.06e8], "range": [305, 567], "nice": false},
                     "axis": {"zindex": 2, "orient": "bottom", "offset": -84, "values": [100, 10000, 1000000, 100000000], "labelExpr": "datum.value == 100 ? '10²' : datum.value == 10000 ? '10⁴' : datum.value == 1000000 ? '10⁶' : '10⁸'", "title": null, "labelFont": "Liberation Sans", "labelFontSize": 9, "labelFontWeight": "bold", "labelColor": "#000000", "tickSize": 4, "tickColor": "#000000", "domainColor": "#000000", "labelPadding": 4, "labelFlush": false, "labelOverlap": false}},
               "y": {"datum": 25, "scale": {"type": "log", "domain": [25, 1e8], "range": [636, 438], "nice": false},
                     "axis": {"zindex": 2, "orient": "left", "offset": -305, "values": [100, 10000, 1000000, 100000000], "labelExpr": "datum.value == 100 ? '10²' : datum.value == 10000 ? '10⁴' : datum.value == 1000000 ? '10⁶' : '10⁸'", "title": null, "labelFont": "Liberation Sans", "labelFontSize": 9, "labelFontWeight": "bold", "labelColor": "#000000", "tickSize": 4, "tickColor": "#000000", "domainColor": "#000000", "labelPadding": 4, "labelFlush": false, "labelOverlap": false}},
               "y2": {"datum": 1e8}}},
 {"data": {"values": [{}]}, "mark": {"type": "rule", "color": "#000000", "strokeWidth": 1},
  "encoding": {"x": {"datum": 27, "axis": null}, "x2": {"datum": 8.3e7}, "y": {"datum": 400, "axis": null}}},
 {"mark": {"type": "circle", "size": 22, "color": "#5b9ce6", "opacity": 1},
  "encoding": {"x": {"field": "A", "type": "quantitative", "axis": null}, "y": {"field": "S", "type": "quantitative", "axis": null}}}
]},
{"layer": [
 {"mark": {"type": "rect", "fill": "transparent", "stroke": "#4b2472", "strokeWidth": 3},
  "encoding": {"x": {"datum": 0, "scale": {"domain": [0, 1], "range": [709, 1133], "nice": false}, "axis": null}, "x2": {"datum": 0.849},
               "y": {"datum": 0.0197, "scale": {"domain": [0, 1], "range": [697, 393], "nice": false}, "axis": null}, "y2": {"datum": 0.9868}}},
 {"mark": {"type": "rect", "fill": "#4b2472"},
  "encoding": {"x": {"datum": 0.849, "axis": null}, "x2": {"datum": 1}, "y": {"datum": 0.0066, "axis": null}, "y2": {"datum": 1}}},
 {"mark": {"type": "text", "text": ["Subject 1315 M9", "Flow Cytometry"], "angle": 90, "lineHeight": 30, "align": "center", "baseline": "middle", "fontSize": 21, "color": "#ffffff"},
  "encoding": {"x": {"datum": 0.953, "axis": null}, "y": {"datum": 0.516, "axis": null}}},
 {"mark": {"type": "text", "text": "Count", "angle": 270, "align": "center", "baseline": "middle", "font": "Lato", "fontSize": 21, "fontWeight": "bold", "color": "#000000"},
  "encoding": {"x": {"datum": 0.061, "axis": null}, "y": {"datum": 0.5, "axis": null}}},
 {"mark": {"type": "text", "text": "β", "align": "left", "baseline": "alphabetic", "font": "Lato", "fontSize": 21, "fontWeight": "bold", "color": "#000000"},
  "encoding": {"x": {"datum": 0.1698, "axis": null}, "y": {"datum": 0.0493, "axis": null}}},
 {"mark": {"type": "text", "text": "S", "align": "left", "baseline": "alphabetic", "font": "Lato", "fontSize": 13, "fontWeight": "bold", "color": "#000000"},
  "encoding": {"x": {"datum": 0.2028, "axis": null}, "y": {"datum": 0.0888, "axis": null}}},
 {"mark": {"type": "text", "text": "Fluorescence Intensity", "align": "left", "baseline": "alphabetic", "font": "Lato", "fontSize": 21, "fontWeight": "bold", "color": "#000000"},
  "encoding": {"x": {"datum": 0.2288, "axis": null}, "y": {"datum": 0.0493, "axis": null}}},
 {"mark": {"type": "text", "text": "A/A", "align": "center", "baseline": "middle", "fontSize": 21, "color": "#000000"}, "encoding": {"x": {"datum": 0.2547, "axis": null}, "y": {"datum": 0.878, "axis": null}}},
 {"mark": {"type": "text", "text": "85.5%", "align": "center", "baseline": "middle", "fontSize": 32, "color": "#2f79b6"}, "encoding": {"x": {"datum": 0.6038, "axis": null}, "y": {"datum": 0.868, "axis": null}}},
 {"mark": {"type": "text", "text": "1315", "align": "center", "baseline": "middle", "fontSize": 22, "fontWeight": "bold", "color": "#5db3e4"}, "encoding": {"x": {"datum": 0.3962, "axis": null}, "y": {"datum": 0.556, "axis": null}}},
 {"mark": {"type": "text", "text": "A/S", "align": "center", "baseline": "middle", "fontSize": 21, "color": "#000000"}, "encoding": {"x": {"datum": 0.3939, "axis": null}, "y": {"datum": 0.48, "axis": null}}},
 {"mark": {"type": "text", "text": "S/S", "align": "center", "baseline": "middle", "fontSize": 21, "color": "#000000"}, "encoding": {"x": {"datum": 0.5283, "axis": null}, "y": {"datum": 0.428, "axis": null}}}
]},
{"data": {"name": "hist"},
 "resolve": {"axis": {"x": "independent", "y": "independent"}},
 "layer": [
 {"data": {"values": [{}]}, "mark": {"type": "rect", "fill": "transparent", "stroke": "#555555", "strokeWidth": 1},
  "encoding": {
   "x": {"datum": -1600, "scale": {"type": "symlog", "constant": 200, "domain": [-1600, 210000], "range": [783, 1012], "nice": false, "zero": false},
         "axis": {"zindex": 2, "orient": "bottom", "offset": -80, "values": [-900, -800, -700, -600, -500, -400, -300, -200, -100, 100, 200, 300, 400, 500, 600, 700, 800, 900, 2000, 3000, 4000, 5000, 6000, 7000, 8000, 9000, 20000, 30000, 40000, 50000, 60000, 70000, 80000, 90000, 200000], "labels": false, "domain": false, "tickSize": 3, "tickColor": "#000000", "title": null}},
   "x2": {"datum": 210000},
   "y": {"datum": 0, "scale": {"domain": [0, 2875], "range": [640, 410], "nice": false, "zero": false},
         "axis": {"zindex": 2, "orient": "left", "offset": -783, "values": [100, 200, 300, 400, 600, 700, 800, 900, 1100, 1200, 1300, 1400, 1600, 1700, 1800, 1900, 2100, 2200, 2300, 2400, 2600, 2700, 2800], "labels": false, "domain": false, "tickSize": 3, "tickColor": "#000000", "title": null}},
   "y2": {"datum": 2875}}},
 {"transform": [{"filter": "datum.curve == 'A/A'"}],
  "mark": {"type": "area", "interpolate": "monotone", "fill": "#a3a3a3", "fillOpacity": 0.9, "stroke": "#555555", "strokeWidth": 1.2},
  "encoding": {
   "x": {"field": "x", "type": "quantitative", "axis": {"zindex": 2, "orient": "bottom", "offset": -80, "values": [-1000, 0, 1000, 10000, 100000], "labelExpr": "datum.value == 0 ? '0' : datum.value < 0 ? '-10³' : datum.value == 1000 ? '10³' : datum.value == 10000 ? '10⁴' : '10⁵'", "title": null, "labelFont": "Liberation Sans", "labelFontSize": 8, "labelFontWeight": "bold", "labelColor": "#000000", "tickSize": 6, "tickWidth": 1.5, "tickColor": "#000000", "domainColor": "#000000", "domainWidth": 1.5, "labelPadding": 4, "labelFlush": false, "labelOverlap": false}},
   "y": {"field": "count", "type": "quantitative", "axis": {"zindex": 2, "orient": "left", "offset": -783, "values": [0, 500, 1000, 1500, 2000, 2500], "labelExpr": "datum.value == 0 ? '0' : datum.value == 500 ? '500' : format(datum.value / 1000, '.1f') + 'K'", "title": null, "labelFont": "Liberation Sans", "labelFontSize": 8, "labelFontWeight": "bold", "labelColor": "#000000", "tickSize": 5, "tickWidth": 1.5, "tickColor": "#000000", "domainColor": "#000000", "domainWidth": 1.5, "labelPadding": 3, "labelFlush": false, "labelOverlap": false}}}},
 {"transform": [{"filter": "datum.curve == 'S/S'"}],
  "mark": {"type": "area", "interpolate": "monotone", "fill": "#a3a3a3", "fillOpacity": 0.9, "stroke": "#555555", "strokeWidth": 1.2},
  "encoding": {"x": {"field": "x", "type": "quantitative", "axis": null}, "y": {"field": "count", "type": "quantitative", "axis": null}}},
 {"transform": [{"filter": "datum.curve == '1315'"}],
  "mark": {"type": "area", "interpolate": "monotone", "fill": "#86c2f2", "fillOpacity": 0.75, "stroke": "#3f95e0", "strokeWidth": 1.2},
  "encoding": {"x": {"field": "x", "type": "quantitative", "axis": null}, "y": {"field": "count", "type": "quantitative", "axis": null}}},
 {"transform": [{"filter": "datum.curve == 'A/S'"}],
  "mark": {"type": "area", "interpolate": "monotone", "fill": "#3f7dc6", "fillOpacity": 0.6, "stroke": "#2a66b0", "strokeWidth": 1.2},
  "encoding": {"x": {"field": "x", "type": "quantitative", "axis": null}, "y": {"field": "count", "type": "quantitative", "axis": null}}}
]},
{"data": {"values": [{"bar": "1"}, {"bar": "2"}, {"bar": "3"}, {"bar": "4"}, {"bar": "5"}, {"bar": "6"}]},
 "mark": {"type": "rect"},
 "encoding": {
  "x": {"field": "bar", "type": "nominal", "scale": {"type": "band", "range": [156, 1125], "paddingInner": 0.077, "paddingOuter": 0}, "axis": null},
  "y": {"datum": 0, "scale": {"domain": [0, 1], "range": [712, 707], "nice": false}, "axis": null}, "y2": {"datum": 1},
  "color": {"field": "bar", "type": "nominal", "scale": {"range": ["#4a2371", "#ee7623", "#80b441", "#156a9a", "#6cc0ea", "#b8124f"]}, "legend": null}}}
]
}
